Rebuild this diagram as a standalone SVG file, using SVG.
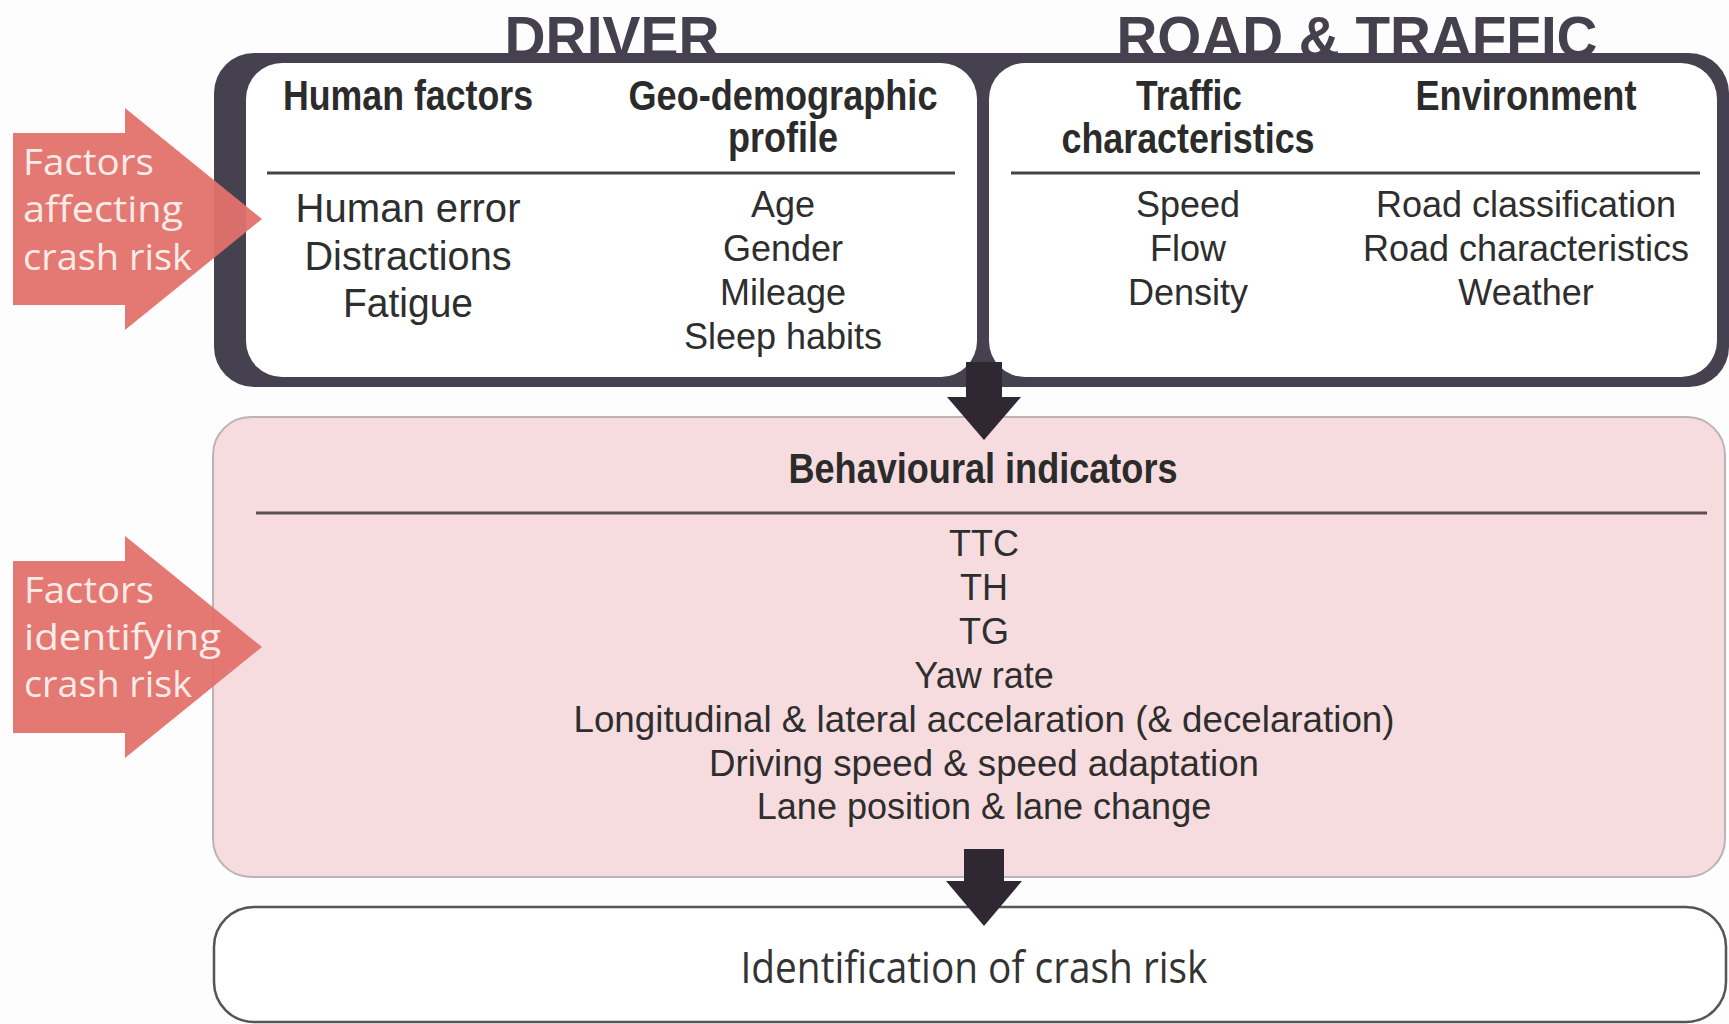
<svg xmlns="http://www.w3.org/2000/svg" width="1729" height="1024" viewBox="0 0 1729 1024">
<style>
.ttl{font-family:"Liberation Sans",Arial,sans-serif;font-weight:bold;fill:#45404e;text-anchor:middle}
.hd{font-family:"Liberation Sans Narrow","Liberation Sans",Arial,sans-serif;font-weight:bold;fill:#2b2b2b;text-anchor:middle;font-size:42px}
.it{font-family:"Liberation Sans",Arial,sans-serif;fill:#2e2e2e;text-anchor:middle;font-size:36px}
.big{font-size:40px}
.side{font-family:"Open Sans","Noto Sans",sans-serif;fill:#fcebe6;font-size:37px}
.res{font-family:"Open Sans","Noto Sans",sans-serif;fill:#333;text-anchor:middle;font-size:44px}
.sal{fill:#e3716b;opacity:0.95}
.dark{fill:#2f2731}
.rule{stroke:#444;stroke-width:3}
</style>
<rect width="1729" height="1024" fill="#fdfdfd"/>

<g id="titles">
<text class="ttl" x="612" y="57" font-size="57" textLength="215" lengthAdjust="spacingAndGlyphs">DRIVER</text>
<text class="ttl" x="1357" y="57" font-size="57" textLength="481" lengthAdjust="spacingAndGlyphs">ROAD &amp; TRAFFIC</text>
</g>

<g id="frame">
<rect x="214" y="53" width="1515" height="334" rx="40" fill="#46414f"/>
</g>

<g id="driver">
<rect x="246" y="63" width="731" height="314" rx="36" fill="#ffffff"/>
<text class="hd" x="408" y="110" textLength="250" lengthAdjust="spacingAndGlyphs">Human factors</text>
<text class="hd" x="783" y="110" textLength="309" lengthAdjust="spacingAndGlyphs">Geo-demographic</text>
<text class="hd" x="783" y="152" textLength="110" lengthAdjust="spacingAndGlyphs">profile</text>
<line class="rule" x1="267" y1="173" x2="955" y2="173"/>
<text class="it big" x="408" y="222" textLength="225" lengthAdjust="spacingAndGlyphs">Human error</text>
<text class="it big" x="408" y="270" textLength="207" lengthAdjust="spacingAndGlyphs">Distractions</text>
<text class="it big" x="408" y="317" textLength="130" lengthAdjust="spacingAndGlyphs">Fatigue</text>
<text class="it" x="783" y="217">Age</text>
<text class="it" x="783" y="261">Gender</text>
<text class="it" x="783" y="305">Mileage</text>
<text class="it" x="783" y="349">Sleep habits</text>
</g>

<g id="road-traffic">
<rect x="989" y="63" width="728" height="314" rx="36" fill="#ffffff"/>
<text class="hd" x="1189" y="110" textLength="106" lengthAdjust="spacingAndGlyphs">Traffic</text>
<text class="hd" x="1188" y="153" textLength="253" lengthAdjust="spacingAndGlyphs">characteristics</text>
<text class="hd" x="1526" y="110" textLength="221" lengthAdjust="spacingAndGlyphs">Environment</text>
<line class="rule" x1="1011" y1="173" x2="1700" y2="173"/>
<text class="it" x="1188" y="217">Speed</text>
<text class="it" x="1188" y="261">Flow</text>
<text class="it" x="1188" y="305">Density</text>
<text class="it" x="1526" y="217">Road classification</text>
<text class="it" x="1526" y="261">Road characteristics</text>
<text class="it" x="1526" y="305">Weather</text>
</g>

<g id="behavioural">
<rect x="213" y="417" width="1512" height="460" rx="38" fill="#f7dcdf" stroke="#bdb3b6" stroke-width="2"/>
<text class="hd" x="983" y="483" textLength="389" lengthAdjust="spacingAndGlyphs">Behavioural indicators</text>
<line x1="256" y1="513" x2="1707" y2="513" stroke="#5e4f57" stroke-width="3"/>
<text class="it" x="984" y="556">TTC</text>
<text class="it" x="984" y="600">TH</text>
<text class="it" x="984" y="644">TG</text>
<text class="it" x="984" y="688">Yaw rate</text>
<text class="it" x="984" y="732" textLength="821" lengthAdjust="spacingAndGlyphs">Longitudinal &amp; lateral accelaration (&amp; decelaration)</text>
<text class="it" x="984" y="776" textLength="550" lengthAdjust="spacingAndGlyphs">Driving speed &amp; speed adaptation</text>
<text class="it" x="984" y="819">Lane position &amp; lane change</text>
</g>

<g id="identification">
<rect x="214" y="907" width="1512" height="115" rx="40" fill="#ffffff" stroke="#555" stroke-width="2.5"/>
<text class="res" x="974" y="983" textLength="467" lengthAdjust="spacingAndGlyphs">Identification of crash risk</text>
</g>

<g id="side-affecting">
<polygon class="sal" points="13,133 125,133 125,108 262,219 125,330 125,305 13,305"/>
<text class="side" x="23" y="175" textLength="131" lengthAdjust="spacingAndGlyphs">Factors</text>
<text class="side" x="23" y="222" textLength="160" lengthAdjust="spacingAndGlyphs">affecting</text>
<text class="side" x="23" y="270" textLength="169" lengthAdjust="spacingAndGlyphs">crash risk</text>
</g>

<g id="side-identifying">
<polygon class="sal" points="13,561 125,561 125,536 262,647 125,758 125,733 13,733"/>
<text class="side" x="24" y="603" textLength="130" lengthAdjust="spacingAndGlyphs">Factors</text>
<text class="side" x="24" y="650" textLength="197" lengthAdjust="spacingAndGlyphs">identifying</text>
<text class="side" x="24" y="697" textLength="168" lengthAdjust="spacingAndGlyphs">crash risk</text>
</g>

<g id="connectors">
<path class="dark" d="M966,362 L1002,362 L1002,397 L1021,397 L984,440 L947,397 L966,397 Z"/>
<path class="dark" d="M964,849 L1004,849 L1004,881 L1022,881 L984,926 L946,881 L964,881 Z"/>
</g>
</svg>
